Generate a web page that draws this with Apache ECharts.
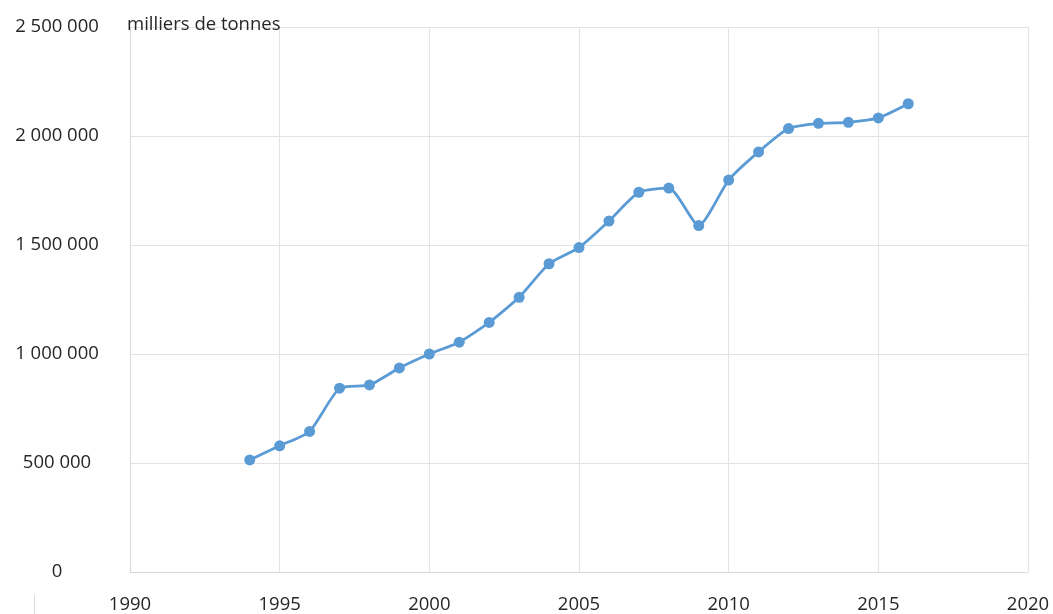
<!DOCTYPE html>
<html>
<head>
<meta charset="utf-8">
<script src="https://cdn.jsdelivr.net/npm/echarts@6/dist/echarts.min.js"></script>
<style>html,body{margin:0;padding:0;background:#fff;}#c{width:1053px;height:614px;}</style>
</head>
<body>
<div id="c"></div>
<script>
var years = [1994,1995,1996,1997,1998,1999,2000,2001,2002,2003,2004,2005,2006,2007,2008,2009,2010,2011,2012,2013,2014,2015,2016];
var values = [514000,579000,645000,843000,858000,936000,1000000,1054000,1145000,1260000,1414000,1488000,1610000,1742000,1761000,1589000,1798000,1927000,2034000,2058000,2063000,2083000,2148000];
var unitLabel = 'milliers de tonnes';

function fmt(v){ return String(v).replace(/\B(?=(\d{3})+(?!\d))/g, ' '); }

var chart = echarts.init(document.getElementById('c'));
var font = '"Open Sans", sans-serif';
chart.setOption({
  animation: false,
  grid: {left: 130, right: 25, top: 27, bottom: 41},
  graphic: [
    {type: 'text', left: 127, top: 15, z: 100, style: {text: unitLabel, font: '18.5px "Open Sans", sans-serif', fill: '#262626', backgroundColor: 'transparent'}},
    {type: 'line', shape: {x1: 34.5, y1: 595, x2: 34.5, y2: 614}, style: {stroke: '#d9d9d9', lineWidth: 1}}
  ],
  xAxis: {
    type: 'value', min: 1990, max: 2020, interval: 5,
    axisLine: {show: true, lineStyle: {color: '#d9d9d9', width: 1}},
    axisTick: {show: false},
    splitLine: {show: true, lineStyle: {color: '#e3e3e3', width: 1}},
    axisLabel: {margin: 23, fontSize: 18.5, fontFamily: font, color: '#262626', formatter: function(v){return String(v);}}
  },
  yAxis: {
    type: 'value', min: 0, max: 2500000, interval: 500000,
    axisLine: {show: true, lineStyle: {color: '#d9d9d9', width: 1}},
    axisTick: {show: false},
    splitLine: {show: true, lineStyle: {color: '#e3e3e3', width: 1}},
    axisLabel: {margin: 73, align: 'center', fontSize: 18.5, fontFamily: font, color: '#262626', formatter: fmt}
  },
  series: [{
    type: 'line',
    data: years.map(function(y, i){ return [y, values[i]]; }),
    smooth: 0.2,
    symbol: 'circle', symbolSize: 11,
    lineStyle: {color: '#5B9BD5', width: 2.75},
    itemStyle: {color: '#5B9BD5'}
  }]
});
</script>
</body>
</html>
